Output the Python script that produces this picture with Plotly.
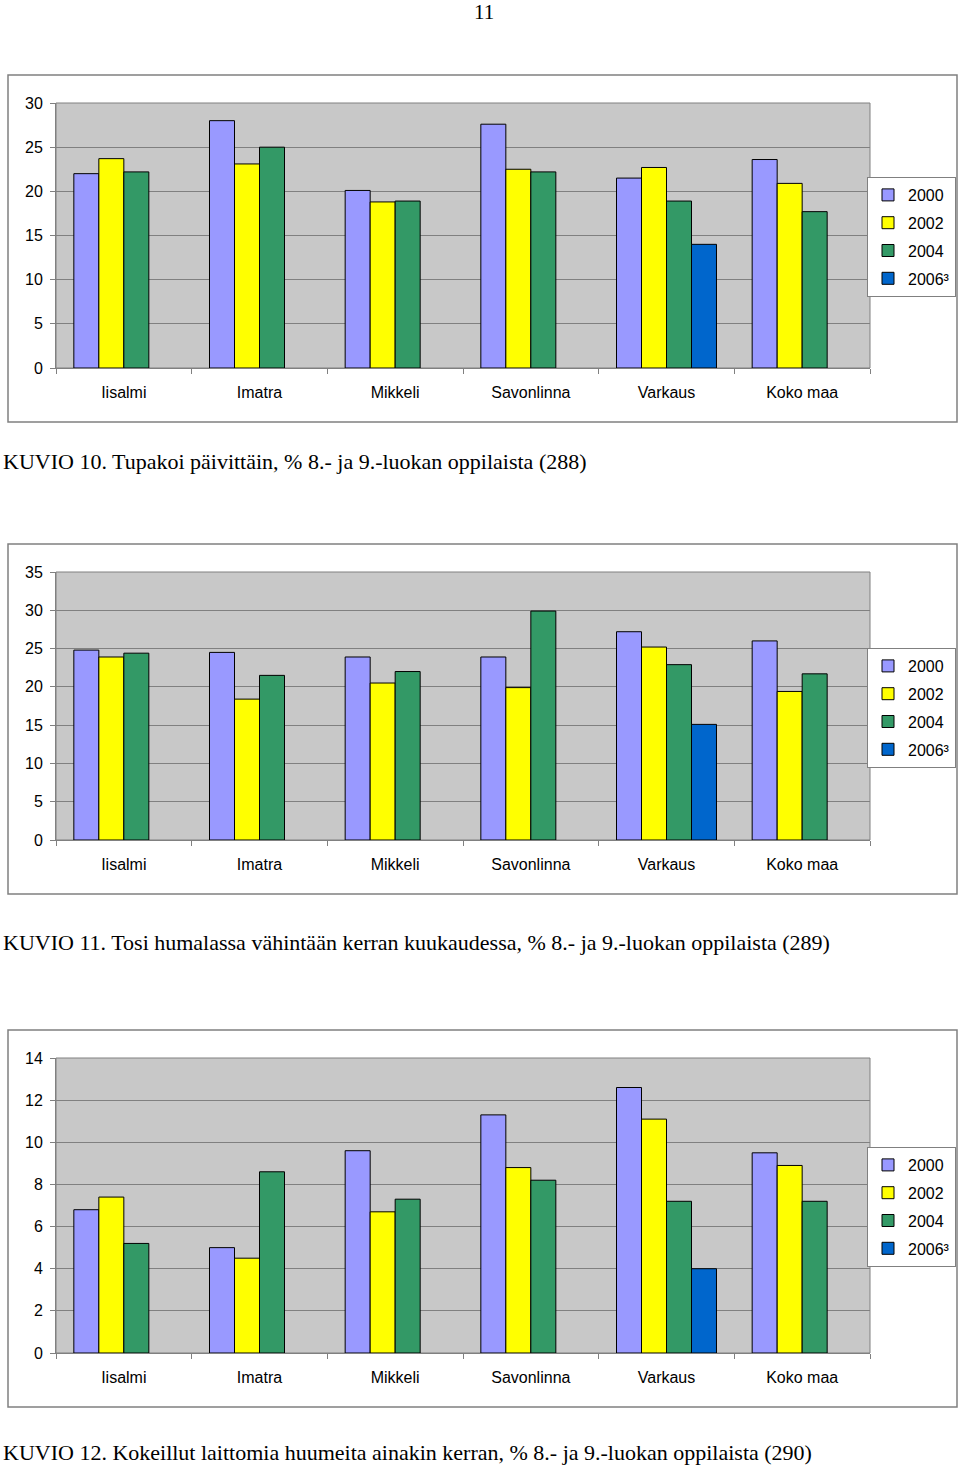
import plotly.graph_objects as go

W, H = 960, 1467

categories = ["Iisalmi", "Imatra", "Mikkeli", "Savonlinna", "Varkaus", "Koko maa"]
years = ["2000", "2002", "2004", "2006³"]
colors = ["#9999FF", "#FFFF00", "#339966", "#0066CC"]

# KUVIO 10 – Tupakoi päivittäin
smoke_2000 = [22.0, 28.0, 20.1, 27.6, 21.5, 23.6]
smoke_2002 = [23.7, 23.1, 18.8, 22.5, 22.7, 20.9]
smoke_2004 = [22.2, 25.0, 18.9, 22.2, 18.9, 17.7]
smoke_2006 = [None, None, None, None, 14.0, None]

# KUVIO 11 – Tosi humalassa
drunk_2000 = [24.8, 24.5, 23.9, 23.9, 27.2, 26.0]
drunk_2002 = [23.9, 18.4, 20.5, 19.9, 25.2, 19.4]
drunk_2004 = [24.4, 21.5, 22.0, 29.9, 22.9, 21.7]
drunk_2006 = [None, None, None, None, 15.1, None]

# KUVIO 12 – Kokeillut laittomia huumeita
drugs_2000 = [6.8, 5.0, 9.6, 11.3, 12.6, 9.5]
drugs_2002 = [7.4, 4.5, 6.7, 8.8, 11.1, 8.9]
drugs_2004 = [5.2, 8.6, 7.3, 8.2, 7.2, 7.2]
drugs_2006 = [None, None, None, None, 4.0, None]

captions = [
    "KUVIO 10. Tupakoi päivittäin, % 8.- ja 9.-luokan oppilaista (288)",
    "KUVIO 11. Tosi humalassa vähintään kerran kuukaudessa, % 8.- ja 9.-luokan oppilaista (289)",
    "KUVIO 12. Kokeillut laittomia huumeita ainakin kerran, % 8.- ja 9.-luokan oppilaista (290)",
]
page_number = "11"

charts = [
    dict(series=[smoke_2000, smoke_2002, smoke_2004, smoke_2006], ymax=30, dtick=5,
         plot=(103, 368), box=(75, 422), legend=(177, 291), caption_y=461),
    dict(series=[drunk_2000, drunk_2002, drunk_2004, drunk_2006], ymax=35, dtick=5,
         plot=(572, 840), box=(544, 894), legend=(648, 762), caption_y=942),
    dict(series=[drugs_2000, drugs_2002, drugs_2004, drugs_2006], ymax=14, dtick=2,
         plot=(1058, 1353), box=(1030, 1407), legend=(1147, 1261), caption_y=1452),
]

def py(p):
    return 1 - p / H

def px(p):
    return p / W

fig = go.Figure()
shapes = []
annotations = []
layout = {}
font_sans = "Liberation Sans, Arial, sans-serif"
font_serif = "Liberation Serif, Times New Roman, serif"

for i, ch in enumerate(charts):
    n = "" if i == 0 else str(i + 1)
    xa = "x" + n
    ya = "y" + n
    lg = "legend" + n
    for s, (vals, yr, col) in enumerate(zip(ch["series"], years, colors)):
        fig.add_trace(go.Bar(
            x=categories, y=vals, name=yr, xaxis=xa, yaxis=ya, legend=lg,
            legendgroup=f"c{i}s{s}",
            marker=dict(color=col, line=dict(color="black", width=1)),
            hoverinfo="skip",
        ))
    top, bot = ch["plot"]
    layout["xaxis" + n] = dict(
        domain=[px(56), px(870)], anchor=ya, type="category", automargin=False,
        tickson="boundaries", ticks="outside", ticklen=5, tickcolor="#808080",
        showline=True, linecolor="#808080", linewidth=1, showgrid=False,
        tickfont=dict(family=font_sans, size=16, color="black"),
        ticklabelstandoff=10, fixedrange=True,
    )
    layout["yaxis" + n] = dict(
        domain=[py(bot), py(top)], anchor=xa, range=[0, ch["ymax"]], automargin=False,
        dtick=ch["dtick"], tick0=0, ticks="outside", ticklen=5, tickcolor="#808080",
        showline=True, linecolor="#808080", linewidth=1,
        showgrid=True, gridcolor="#808080", gridwidth=1, zeroline=False,
        tickfont=dict(family=font_sans, size=16, color="black"),
        ticklabelstandoff=4, fixedrange=True,
    )
    ltop, lbot = ch["legend"]
    layout[lg] = dict(
        x=px(867), y=py(ltop), xanchor="left", yanchor="top",
        bgcolor="white", bordercolor="#808080", borderwidth=1,
        font=dict(family=font_sans, size=16, color="black"),
        itemwidth=30, tracegroupgap=4,
    )
    btop, bbot = ch["box"]
    shapes.append(dict(type="rect", xref="paper", yref="paper",
                       x0=px(8), x1=px(957), y0=py(bbot), y1=py(btop),
                       line=dict(color="#808080", width=1.5), layer="below"))
    shapes.append(dict(type="rect", xref="paper", yref="paper",
                       x0=px(56), x1=px(870), y0=py(bot), y1=py(top),
                       fillcolor="#C8C8C8", line=dict(color="#808080", width=1),
                       layer="below"))
    annotations.append(dict(text=captions[i], xref="paper", yref="paper",
                            x=px(1), y=py(ch["caption_y"]), xanchor="left", yanchor="middle",
                            showarrow=False,
                            font=dict(family=font_serif, size=22, color="black")))

annotations.append(dict(text=page_number, xref="paper", yref="paper",
                        x=px(484), y=py(12), xanchor="center", yanchor="middle",
                        showarrow=False, font=dict(family=font_serif, size=21, color="black")))

fig.update_layout(
    width=W, height=H, margin=dict(l=0, r=0, t=0, b=0, pad=0, autoexpand=False),
    paper_bgcolor="white", plot_bgcolor="rgba(0,0,0,0)",
    barmode="group", bargap=0.263, bargroupgap=0,
    shapes=shapes, annotations=annotations, showlegend=True,
    **layout,
)

post = """
document.documentElement.style.margin='0';
document.documentElement.style.overflow='hidden';
document.body.style.margin='0'; document.body.style.padding='0';
document.body.style.overflow='hidden';
"""

fig.write_html("out.html", config={"displayModeBar": False}, post_script=post)
